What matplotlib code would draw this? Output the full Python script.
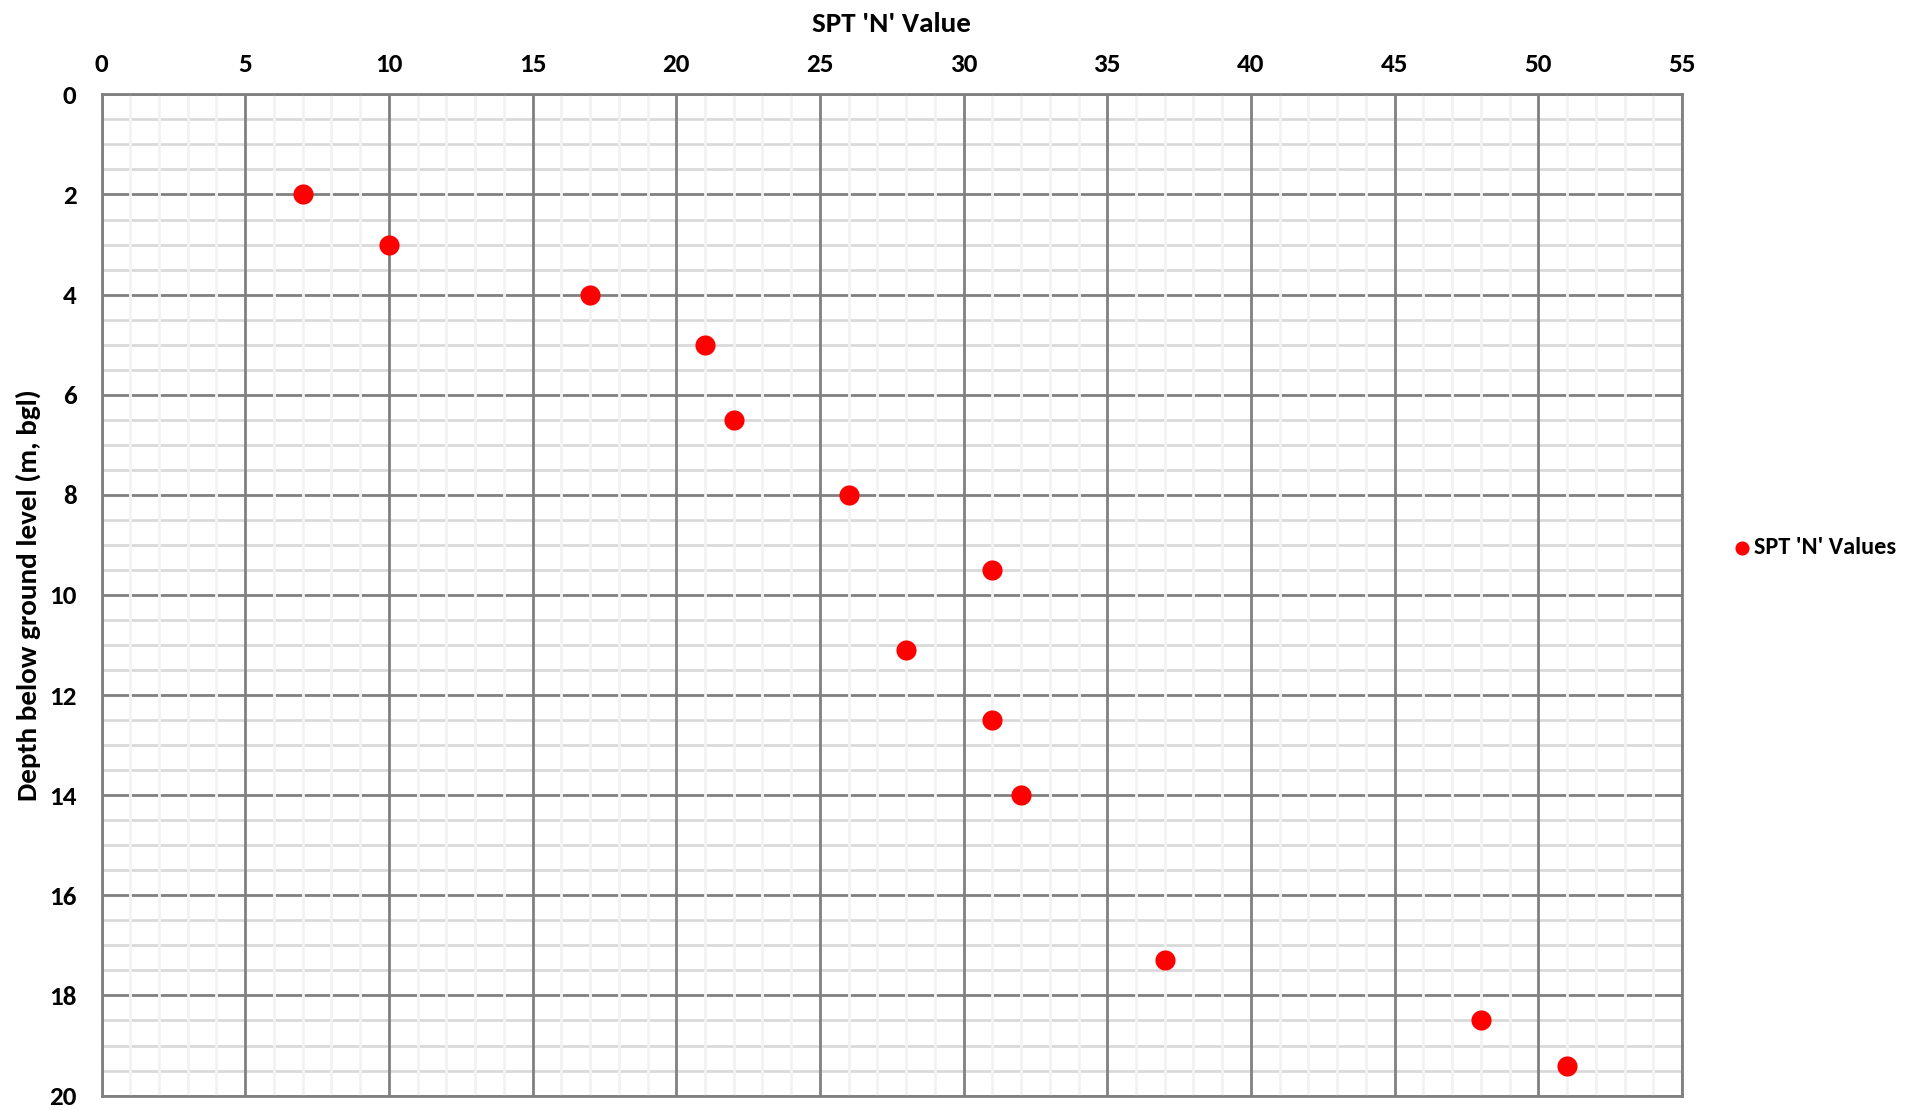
import numpy as np
import matplotlib
matplotlib.use('Agg')
import matplotlib.pyplot as plt

# SPT data
spt_n = [7, 10, 17, 21, 22, 26, 31, 28, 31, 32, 37, 48, 51]
depth = [2.0, 3.0, 4.0, 5.0, 6.5, 8.0, 9.5, 11.1, 12.5, 14.0, 17.3, 18.5, 19.4]
x_ticks = list(range(0, 56, 5))
y_ticks = list(range(0, 21, 2))

plt.rcParams['font.family'] = 'Carlito'
plt.rcParams['font.weight'] = 'bold'

fig = plt.figure(figsize=(19.19, 11.10), dpi=100)
ax = fig.add_axes([0.0529, 0.013, 0.8236, 0.902])

ax.set_xlim(0, 55)
ax.set_ylim(20, 0)

# grid, drawn by hand so the layering looks like Excel
for y in np.arange(0, 20.01, 0.5):
    if y % 2 == 0:
        ax.axhline(y, color='#808080', lw=2.0, zorder=1)
    else:
        ax.axhline(y, color='#d9d9d9', lw=2.0, zorder=1)
for x in np.arange(0, 55.01, 1):
    if x % 5 != 0:
        ax.axvline(x, color='#f2f2f2', lw=2.0, zorder=2)
for x in x_ticks:
    ax.axvline(x, color='#808080', lw=2.0, zorder=3)

ax.scatter(spt_n, depth, s=14.5**2, color='#ff0000', zorder=5,
           label="SPT 'N' Values", linewidths=0)

for sp in ax.spines.values():
    sp.set_color('#808080')
    sp.set_linewidth(2.0)

ax.xaxis.tick_top()
ax.xaxis.set_label_position('top')
ax.set_xticks(x_ticks)
ax.set_yticks(y_ticks)
ax.tick_params(axis='both', length=0, labelsize=19.5)
ax.tick_params(axis='x', pad=13)
ax.tick_params(axis='y', pad=18)
for lab in ax.get_xticklabels() + ax.get_yticklabels():
    lab.set_fontweight('bold')

ax.set_xlabel("SPT 'N' Value", fontsize=21, fontweight='bold', labelpad=15)
ax.set_ylabel("Depth below ground level (m, bgl)", fontsize=21,
              fontweight='bold', labelpad=6)

ax.legend(loc='center left', bbox_to_anchor=(1.0317, 0.547), frameon=False,
          prop={'size': 17.5, 'weight': 'bold'}, handletextpad=0.1,
          handlelength=0.8, borderpad=0, borderaxespad=0, markerscale=0.7)

fig.savefig('out.png', dpi=100)
